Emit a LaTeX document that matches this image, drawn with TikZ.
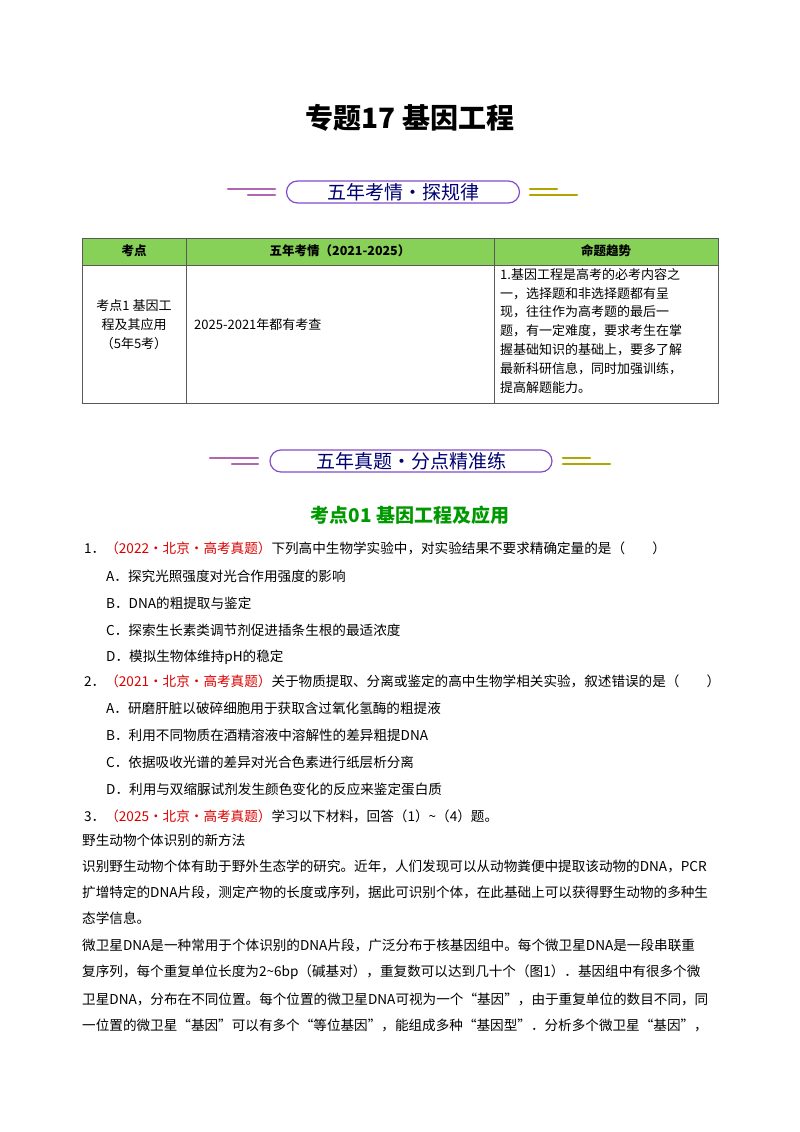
\documentclass[tikz,border=0pt]{standalone}
\usepackage{fontspec}
\setmainfont{Noto Sans CJK SC}
\begin{document}
\begin{tikzpicture}[x=1pt,y=-1pt,
 body/.style={anchor=west,inner sep=0pt,font=\fontsize{13.6}{14}\selectfont},
 red/.style={text=red!85!black},
 cell/.style={inner sep=0pt,font=\fontsize{13}{19}\selectfont,align=center},
 pill/.style={draw=blue!40!violet!70,line width=1.2pt,rounded corners=11pt,minimum height=22pt,text=blue!45!black,font=\fontsize{19}{20}\selectfont,inner xsep=12pt,inner ysep=0pt},
 lv/.style={line width=2.6pt,line cap=round,draw=violet!60},
 ro/.style={line width=2.6pt,line cap=round,draw=olive!70!yellow}]
\useasboundingbox (0,0) rectangle (800,1132);
\node[inner sep=0pt,font=\bfseries\fontsize{28}{30}\selectfont] (title) at (410,118) {专题17\ 基因工程};
% banner 1
\node[pill,minimum width=233pt] (b1) at (403,192) {五年考情·探规律};
\coordinate (l1a) at (228,189);\coordinate (l1b) at (275,189);
\coordinate (l1c) at (248,195);\coordinate (l1d) at (275,195);
\draw[lv] (l1a)--(l1b); \draw[lv] (l1c)--(l1d);
\coordinate (r1a) at (530,189);\coordinate (r1b) at (557,189);
\coordinate (r1c) at (530,195);\coordinate (r1d) at (577,195);
\draw[ro] (r1a)--(r1b); \draw[ro] (r1c)--(r1d);
% table
\fill[green!45!olive!65] (82,238) rectangle (718,265);
\draw[gray!70!black,line width=0.8pt] (82,238) rectangle (718,403);
\draw[gray!70!black,line width=0.8pt] (82,265)--(718,265) (186,238)--(186,403) (494,238)--(494,403);
\node[cell,font=\bfseries\fontsize{12.5}{14}\selectfont] (h1) at (134,251) {考点};
\node[cell,font=\bfseries\fontsize{12.5}{14}\selectfont] (h2) at (340,251) {五年考情（2021-2025）};
\node[cell,font=\bfseries\fontsize{12.5}{14}\selectfont] (h3) at (606,251) {命题趋势};
\node[cell] (c1) at (134,325) {考点1\ 基因工\\程及其应用\\（5年5考）};
\node[cell,anchor=west] (c2) at (194,325) {2025-2021年都有考查};
\node[cell,anchor=north west,align=left,font=\fontsize{13}{18.8}\selectfont] (c3) at (500,268) {1.基因工程是高考的必考内容之\\一，选择题和非选择题都有呈\\现，往往作为高考题的最后一\\题，有一定难度，要求考生在掌\\握基础知识的基础上，要多了解\\最新科研信息，同时加强训练，\\提高解题能力。};
% banner 2
\node[pill,minimum width=282pt] (b2) at (411,461) {五年真题·分点精准练};
\coordinate (l2a) at (210,458);\coordinate (l2b) at (258,458);
\coordinate (l2c) at (232,464);\coordinate (l2d) at (258,464);
\draw[lv] (l2a)--(l2b); \draw[lv] (l2c)--(l2d);
\coordinate (r2a) at (563,458);\coordinate (r2b) at (590,458);
\coordinate (r2c) at (563,464);\coordinate (r2d) at (610,464);
\draw[ro] (r2a)--(r2b); \draw[ro] (r2c)--(r2d);
\node[inner sep=0pt,text=green!60!black,font=\bfseries\fontsize{19}{20}\selectfont] (sec) at (410,515) {考点01\ 基因工程及应用};
% questions
\node[body] (q1) at (84,548) {1．\textcolor{red!85!black}{（2022·北京·高考真题）}下列高中生物学实验中，对实验结果不要求精确定量的是（\qquad ）};
\node[body] (q1a) at (106,576) {A．探究光照强度对光合作用强度的影响};
\node[body] (q1b) at (106,603) {B．DNA的粗提取与鉴定};
\node[body] (q1c) at (106,630) {C．探索生长素类调节剂促进插条生根的最适浓度};
\node[body] (q1d) at (106,657) {D．模拟生物体维持pH的稳定};
\node[body] (q2) at (84,681) {2．\textcolor{red!85!black}{（2021·北京·高考真题）}关于物质提取、分离或鉴定的高中生物学相关实验，叙述错误的是（\qquad ）};
\node[body] (q2a) at (106,708) {A．研磨肝脏以破碎细胞用于获取含过氧化氢酶的粗提液};
\node[body] (q2b) at (106,735) {B．利用不同物质在酒精溶液中溶解性的差异粗提DNA};
\node[body] (q2c) at (106,762) {C．依据吸收光谱的差异对光合色素进行纸层析分离};
\node[body] (q2d) at (106,789) {D．利用与双缩脲试剂发生颜色变化的反应来鉴定蛋白质};
\node[body] (q3) at (84,816) {3．\textcolor{red!85!black}{（2025·北京·高考真题）}学习以下材料，回答（1）\textasciitilde（4）题。};
\node[body] (p0) at (82,840) {野生动物个体识别的新方法};
\node[body] (p1) at (82,866) {识别野生动物个体有助于野外生态学的研究。近年，人们发现可以从动物粪便中提取该动物的DNA，PCR};
\node[body] (p2) at (82,892) {扩增特定的DNA片段，测定产物的长度或序列，据此可识别个体，在此基础上可以获得野生动物的多种生};
\node[body] (p3) at (82,918) {态学信息。};
\node[body] (p4) at (82,945) {微卫星DNA是一种常用于个体识别的DNA片段，广泛分布于核基因组中。每个微卫星DNA是一段串联重};
\node[body] (p5) at (82,972) {复序列，每个重复单位长度为2\textasciitilde6bp（碱基对），重复数可以达到几十个（图1）．基因组中有很多个微};
\node[body] (p6) at (82,999) {卫星DNA，分布在不同位置。每个位置的微卫星DNA可视为一个“基因”，由于重复单位的数目不同，同};
\node[body] (p7) at (82,1025) {一位置的微卫星“基因”可以有多个“等位基因”，能组成多种“基因型”．分析多个微卫星“基因”，};
\end{tikzpicture}
\end{document}
